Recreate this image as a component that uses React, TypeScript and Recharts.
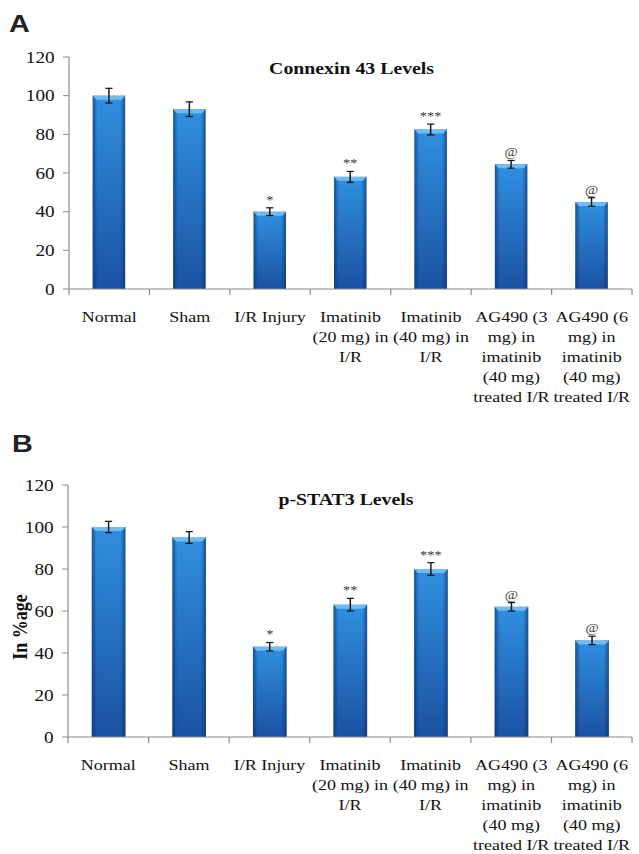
import { BarChart, Bar, XAxis, YAxis, ErrorBar, LabelList } from 'recharts';

// group names, and how they wrap under the axis
const categories = [
  'Normal',
  'Sham',
  'I/R Injury',
  'Imatinib (20 mg) in I/R',
  'Imatinib (40 mg) in I/R',
  'AG490 (3 mg) in imatinib (40 mg) treated I/R',
  'AG490 (6 mg) in imatinib (40 mg) treated I/R',
];
const labelLines = [
  ['Normal'],
  ['Sham'],
  ['I/R Injury'],
  ['Imatinib', '(20 mg) in', 'I/R'],
  ['Imatinib', '(40 mg) in', 'I/R'],
  ['AG490 (3', 'mg) in', 'imatinib', '(40 mg)', 'treated I/R'],
  ['AG490 (6', 'mg) in', 'imatinib', '(40 mg)', 'treated I/R'],
];

const connexinValues = [100, 93, 40, 58, 82.5, 64.5, 45];
const connexinErrors = [3.8, 3.8, 2, 2.8, 2.8, 2, 2.2];
const pstat3Values = [100, 95, 43, 63, 80, 62, 46];
const pstat3Errors = [2.7, 2.8, 2, 3, 3, 2, 2];
const significance = ['', '', '*', '**', '***', '@', '@'];

const yTicks = [0, 20, 40, 60, 80, 100, 120];

const rowsA = categories.map((name, i) => ({
  name,
  value: connexinValues[i],
  err: connexinErrors[i],
  sig: significance[i],
}));
const rowsB = categories.map((name, i) => ({
  name,
  value: pstat3Values[i],
  err: pstat3Errors[i],
  sig: significance[i],
}));

const SERIF = '"Liberation Serif", "Times New Roman", serif';
const AXIS = '#8a8a8a';
// the source figure is stretched sideways, so draw narrow and scale up
const STRETCH = 1.2;
const W = 639 / STRETCH;

function CategoryTick(props: any) {
  const { x, y, payload, width, visibleTicksCount } = props;
  const idx = categories.indexOf(payload.value);
  const lines = labelLines[idx] ?? [String(payload.value)];
  const half = payload.offset ? payload.offset : width / visibleTicksCount / 2;
  return (
    <g>
      <line x1={x - half} x2={x - half} y1={y} y2={y + 6} stroke={AXIS} />
      {idx === categories.length - 1 && (
        <line x1={x + half} x2={x + half} y1={y} y2={y + 6} stroke={AXIS} />
      )}
      <text x={x} y={y} textAnchor="middle" fontFamily={SERIF} fontSize={15} fill="#111">
        {lines.map((l, i) => (
          <tspan key={i} x={x} dy={i === 0 ? 33 : 20}>
            {l}
          </tspan>
        ))}
      </text>
    </g>
  );
}

function GlossyBar(props: any) {
  const { x, y, width, height, gid } = props;
  if (!height || height <= 0) return null;
  const bevel = Math.min(4, height / 2);
  return (
    <g>
      <rect x={x} y={y} width={width} height={height} fill={`url(#${gid}-v)`} />
      <rect x={x} y={y} width={width} height={height} fill={`url(#${gid}-h)`} />
      <polygon
        points={`${x},${y} ${x + width},${y} ${x + width - 3},${y + bevel} ${x + 3},${y + bevel}`}
        fill="#6fbcf2"
      />
    </g>
  );
}

function SigLabel(props: any) {
  const { x, y, width, height, index, value, rows } = props;
  if (!value) return null;
  const row = rows[index];
  const perUnit = height / row.value;
  const top = y - row.err * perUnit;
  return (
    <text x={x + width / 2} y={top - 4} textAnchor="middle" fontFamily={SERIF} fontSize={12} fill="#3a3a3a">
      {value}
    </text>
  );
}

function Gradients({ gid }: { gid: string }) {
  return (
    <defs>
      <linearGradient id={`${gid}-v`} x1="0" y1="0" x2="0" y2="1">
        <stop offset="0%" stopColor="#3090e0" />
        <stop offset="100%" stopColor="#1b52a2" />
      </linearGradient>
      <linearGradient id={`${gid}-h`} x1="0" y1="0" x2="1" y2="0">
        <stop offset="0%" stopColor="#0d2f6e" stopOpacity={0.65} />
        <stop offset="15%" stopColor="#0d2f6e" stopOpacity={0} />
        <stop offset="85%" stopColor="#0d2f6e" stopOpacity={0} />
        <stop offset="100%" stopColor="#0d2f6e" stopOpacity={0.65} />
      </linearGradient>
    </defs>
  );
}

function Panel({
  rows,
  gid,
  height,
  top,
  axisWidth,
  xHeight,
  yLabel,
}: {
  rows: any[];
  gid: string;
  height: number;
  top: number;
  axisWidth: number;
  xHeight: number;
  yLabel?: string;
}) {
  return (
    <BarChart
      width={W}
      height={height}
      data={rows}
      margin={{ top, right: 5.8, bottom: 0, left: 0 }}
      barCategoryGap="29.5%"
    >
      <Gradients gid={gid} />
      <XAxis
        dataKey="name"
        interval={0}
        height={xHeight}
        tickSize={0}
        tickMargin={0}
        tickLine={false}
        axisLine={{ stroke: AXIS }}
        tick={<CategoryTick />}
      />
      <YAxis
        domain={[0, 120]}
        ticks={yTicks}
        width={axisWidth}
        tickSize={5}
        tickMargin={7}
        axisLine={{ stroke: AXIS }}
        tickLine={{ stroke: AXIS }}
        tick={{ fill: '#111', fontSize: 16, fontFamily: SERIF }}
        label={
          yLabel
            ? {
                content: (p: any) => {
                  const vb = p.viewBox;
                  const cx = 22.5;
                  const cy = vb.y + vb.height / 2 + 16;
                  return (
                    <text
                      x={cx}
                      y={cy}
                      transform={`rotate(-90 ${cx} ${cy})`}
                      textAnchor="middle"
                      fontFamily={SERIF}
                      fontWeight="bold"
                      fontSize={18}
                      fill="#111"
                    >
                      {yLabel}
                    </text>
                  );
                },
              }
            : undefined
        }
      />
      <Bar
        dataKey="value"
        isAnimationActive={false}
        shape={(p: any) => <GlossyBar {...p} gid={gid} />}
      >
        <ErrorBar dataKey="err" width={3} stroke="#111" strokeWidth={1.2} direction="y" />
        <LabelList dataKey="sig" content={(p: any) => <SigLabel {...p} rows={rows} />} />
      </Bar>
    </BarChart>
  );
}

export default function App() {
  return (
    <div
      style={{
        position: 'absolute',
        left: 0,
        top: 0,
        width: W,
        height: 854,
        background: '#fff',
        transform: `scaleX(${STRETCH})`,
        transformOrigin: '0 0',
      }}
    >
      <div style={{ position: 'absolute', left: 0, top: 0 }}>
        <Panel rows={rowsA} gid="ga" height={420} top={57} axisWidth={57.5} xHeight={131} />
      </div>
      <div style={{ position: 'absolute', left: 0, top: 420 }}>
        <Panel
          rows={rowsB}
          gid="gb"
          height={434}
          top={65}
          axisWidth={56.7}
          xHeight={117}
          yLabel="In %age"
        />
      </div>
      <svg
        width={W}
        height={854}
        style={{ position: 'absolute', left: 0, top: 0, pointerEvents: 'none' }}
      >
        <text x={7.5} y={32} fontFamily='"Liberation Sans", Arial, sans-serif' fontWeight="bold" fontSize={24} fill="#222">
          A
        </text>
        <text x={10} y={452} fontFamily='"Liberation Sans", Arial, sans-serif' fontWeight="bold" fontSize={24} fill="#222">
          B
        </text>
        <text x={293} y={74} textAnchor="middle" fontFamily={SERIF} fontWeight="bold" fontSize={16.5} fill="#111">
          Connexin 43 Levels
        </text>
        <text x={288.3} y={505} textAnchor="middle" fontFamily={SERIF} fontWeight="bold" fontSize={16.5} fill="#111">
          p-STAT3 Levels
        </text>
      </svg>
    </div>
  );
}
